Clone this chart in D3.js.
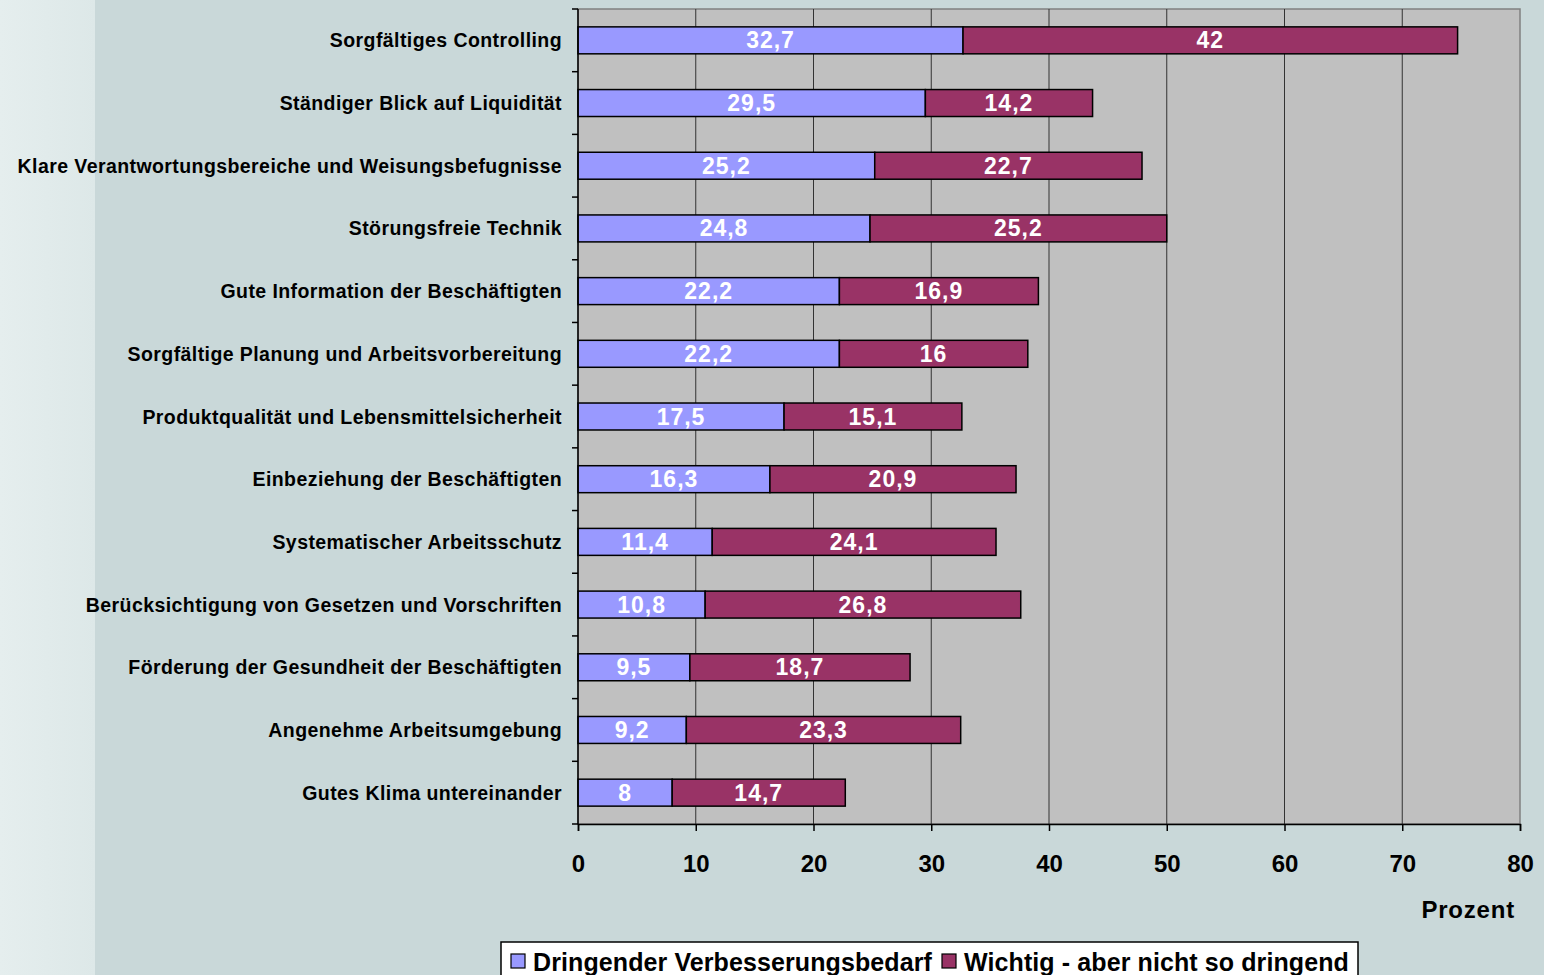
<!DOCTYPE html>
<html>
<head>
<meta charset="utf-8">
<script src="https://cdn.jsdelivr.net/npm/d3@7"></script>
<style>
  html, body { margin: 0; padding: 0; overflow: hidden; }
  svg { display: block; font-family: "Liberation Sans", Arial, sans-serif; }
</style>
</head>
<body>
<svg id="chart" width="1544" height="975"></svg>
<script>
// Erfolgsfaktoren: Anteil der Nennungen in Prozent
const categories = [
  "Sorgfältiges Controlling",
  "Ständiger Blick auf Liquidität",
  "Klare Verantwortungsbereiche und Weisungsbefugnisse",
  "Störungsfreie Technik",
  "Gute Information der Beschäftigten",
  "Sorgfältige Planung und Arbeitsvorbereitung",
  "Produktqualität und Lebensmittelsicherheit",
  "Einbeziehung der Beschäftigten",
  "Systematischer Arbeitsschutz",
  "Berücksichtigung von Gesetzen und Vorschriften",
  "Förderung der Gesundheit der Beschäftigten",
  "Angenehme Arbeitsumgebung",
  "Gutes Klima untereinander"
];
const dringend = [32.7, 29.5, 25.2, 24.8, 22.2, 22.2, 17.5, 16.3, 11.4, 10.8, 9.5, 9.2, 8];
const wichtig  = [42, 14.2, 22.7, 25.2, 16.9, 16, 15.1, 20.9, 24.1, 26.8, 18.7, 23.3, 14.7];
const seriesNames = ["Dringender Verbesserungsbedarf", "Wichtig - aber nicht so dringend"];
const seriesColors = ["#9999ff", "#993366"];
const xTicks = [0, 10, 20, 30, 40, 50, 60, 70, 80];
const xTitle = "Prozent";

const fmt = v => String(v).replace(".", ",");

const svg = d3.select("#chart");
const W = 1544, H = 975;

// Hintergrund
const defs = svg.append("defs");
const grad = defs.append("linearGradient").attr("id", "strip").attr("x1", 0).attr("x2", 1).attr("y1", 0).attr("y2", 0);
grad.append("stop").attr("offset", "0%").attr("stop-color", "#e5eeee");
grad.append("stop").attr("offset", "100%").attr("stop-color", "#dde8e8");
svg.append("rect").attr("width", W).attr("height", H).attr("fill", "#c9d8d9");
svg.append("rect").attr("width", 95).attr("height", H).attr("fill", "url(#strip)");

const plot = { left: 578, right: 1520, top: 9, bottom: 824 };

const x = d3.scaleLinear().domain([0, 80]).range([plot.left, plot.right]);
const y = d3.scaleBand().domain(categories).range([plot.top, plot.bottom]).paddingInner(0.57).paddingOuter(0.285);
const yOuter = d3.scaleBand().domain(categories).range([plot.top, plot.bottom]);

// Zeichenfläche
svg.append("rect")
  .attr("x", plot.left).attr("y", plot.top)
  .attr("width", plot.right - plot.left).attr("height", plot.bottom - plot.top)
  .attr("fill", "#c0c0c0").attr("stroke", "#808080").attr("stroke-width", 1.5);

// Gitternetzlinien
svg.append("g").selectAll("line").data(xTicks.slice(1, -1)).join("line")
  .attr("x1", d => x(d)).attr("x2", d => x(d))
  .attr("y1", plot.top).attr("y2", plot.bottom)
  .attr("stroke", "#333").attr("stroke-width", 1);

// Gestapelte Balken
const stacked = categories.map((c, i) => ({ c, vals: [dringend[i], wichtig[i]] }));
const gBars = svg.append("g");
stacked.forEach(d => {
  let acc = 0;
  d.vals.forEach((v, s) => {
    const x0 = x(acc), x1 = x(acc + v);
    gBars.append("rect")
      .attr("x", x0).attr("y", y(d.c))
      .attr("width", x1 - x0).attr("height", y.bandwidth())
      .attr("fill", seriesColors[s]).attr("stroke", "#000").attr("stroke-width", 1.5);
    gBars.append("text")
      .attr("x", (x0 + x1) / 2).attr("y", y(d.c) + y.bandwidth() / 2)
      .attr("text-anchor", "middle").attr("dominant-baseline", "central")
      .attr("fill", "#fff").attr("font-weight", "bold").attr("font-size", 23)
      .attr("letter-spacing", 1)
      .text(fmt(v));
    acc += v;
  });
});

// Y-Achse
const yAxis = svg.append("g");
yAxis.append("line").attr("x1", plot.left).attr("x2", plot.left).attr("y1", plot.top).attr("y2", plot.bottom)
  .attr("stroke", "#000").attr("stroke-width", 1.5);
const bounds = categories.map(c => yOuter(c)).concat([plot.bottom]);
yAxis.selectAll("line.tick").data(bounds).join("line").attr("class", "tick")
  .attr("x1", plot.left - 6).attr("x2", plot.left)
  .attr("y1", d => d).attr("y2", d => d)
  .attr("stroke", "#000").attr("stroke-width", 1.5);
yAxis.selectAll("text").data(categories).join("text")
  .attr("x", plot.left - 16).attr("y", d => y(d) + y.bandwidth() / 2)
  .attr("text-anchor", "end").attr("dominant-baseline", "central")
  .attr("font-weight", "bold").attr("font-size", 19.5).attr("fill", "#000")
  .attr("letter-spacing", 0.42)
  .text(d => d);

// X-Achse
const xAxis = svg.append("g").attr("transform", `translate(0,${plot.bottom})`)
  .call(d3.axisBottom(x).tickValues(xTicks).tickSize(7).tickPadding(24).tickFormat(d => d));
xAxis.select(".domain").attr("stroke", "#000").attr("stroke-width", 1.5);
xAxis.selectAll(".tick line").attr("stroke", "#000").attr("stroke-width", 1.5);
xAxis.selectAll(".tick text").attr("font-size", 24).attr("font-weight", "bold").attr("fill", "#000")
  .attr("font-family", "Liberation Sans, Arial, sans-serif");

svg.append("text").attr("x", 1515).attr("y", 918)
  .attr("text-anchor", "end").attr("font-weight", "bold").attr("font-size", 24).attr("fill", "#000")
  .attr("letter-spacing", 0.8)
  .text(xTitle);

// Legende
const leg = svg.append("g");
leg.append("rect").attr("x", 501).attr("y", 942).attr("width", 857).attr("height", 50)
  .attr("fill", "#fff").attr("stroke", "#000").attr("stroke-width", 1.5);
const legX = [511, 942];
seriesNames.forEach((n, i) => {
  leg.append("rect").attr("x", legX[i]).attr("y", 954).attr("width", 14).attr("height", 14)
    .attr("fill", seriesColors[i]).attr("stroke", "#000").attr("stroke-width", 1.2);
  leg.append("text").attr("x", legX[i] + 22).attr("y", 971)
    .attr("font-weight", "bold").attr("font-size", 25).attr("fill", "#000")
    .attr("letter-spacing", 0.1)
    .text(n);
});
</script>
</body>
</html>
